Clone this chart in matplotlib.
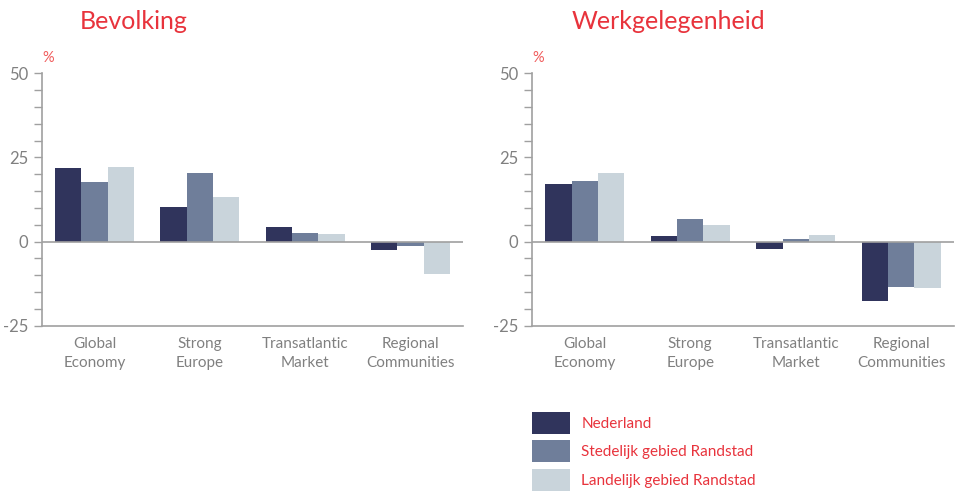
import matplotlib
matplotlib.use("Agg")
import matplotlib.pyplot as plt
import numpy as np
from matplotlib.patches import Patch

plt.rcParams["font.family"] = ["Lato", "DejaVu Sans"]
plt.rcParams["axes.unicode_minus"] = False

categories = ["Global\nEconomy", "Strong\nEurope", "Transatlantic\nMarket", "Regional\nCommunities"]
series = ["Nederland", "Stedelijk gebied Randstad", "Landelijk gebied Randstad"]
colors = ["#30345c", "#6f7e9a", "#c9d4db"]

# Bevolking (% change per scenario)
bev_nl = [21.8, 10.2, 4.3, -2.6]
bev_stad = [17.6, 20.3, 2.5, -1.4]
bev_land = [22.1, 13.2, 2.2, -9.7]

# Werkgelegenheid (% change per scenario)
werk_nl = [17.1, 1.6, -2.3, -17.8]
werk_stad = [17.9, 6.6, 0.7, -13.6]
werk_land = [20.3, 4.9, 1.9, -13.9]

red = "#e8333c"
gray = "#808080"
axis_gray = "#a0a0a0"

W, H = 958, 491
fig = plt.figure(figsize=(W / 100, H / 100), dpi=100)


def draw_panel(left_px, width_px, title, title_x, data):
    ax = fig.add_axes([left_px / W, (H - 325.7) / H, width_px / W, 252.4 / H])
    x = np.arange(len(categories))
    bw = 0.25
    for i, (vals, col) in enumerate(zip(data, colors)):
        ax.bar(x + (i - 1) * bw, vals, width=bw, color=col, linewidth=0, zorder=2)
    ax.set_xlim(-0.5, len(categories) - 0.5)
    ax.set_ylim(-25, 50)
    ax.axhline(0, color=axis_gray, linewidth=1.2, zorder=3)
    for s in ["top", "right"]:
        ax.spines[s].set_visible(False)
    for s in ["left", "bottom"]:
        ax.spines[s].set_color(axis_gray)
        ax.spines[s].set_linewidth(1.2)
    ax.set_yticks([-25, 0, 25, 50])
    ax.set_yticks(np.arange(-25, 51, 5), minor=True)
    ax.tick_params(axis="y", which="both", length=6, color=axis_gray, width=1,
                   labelsize=12, labelcolor=gray, pad=4)
    ax.set_xticks(x)
    ax.set_xticklabels(categories, fontsize=11, color=gray, linespacing=1.45)
    ax.tick_params(axis="x", length=0, pad=8)
    fig.text(title_x / W, 1 - 29 / H, title, color=red, fontsize=18,
             ha="left", va="baseline")
    fig.text(left_px / W, 1 - 62 / H, "%", color="#f05a5a", fontsize=10.5,
             ha="left", va="baseline")
    return ax


draw_panel(42, 421, "Bevolking", 80, [bev_nl, bev_stad, bev_land])
draw_panel(532, 422, "Werkgelegenheid", 572, [werk_nl, werk_stad, werk_land])

handles = [Patch(facecolor=c, edgecolor="none") for c in colors]
leg = fig.legend(handles, series, loc="upper left",
                 bbox_to_anchor=(532 / W, 1 - 412 / H), frameon=False,
                 fontsize=11, handlelength=2.5, handleheight=1.8,
                 handletextpad=0.72, labelspacing=0.45, borderaxespad=0,
                 borderpad=0)
for t in leg.get_texts():
    t.set_color(red)

fig.savefig("out.png", dpi=100)
